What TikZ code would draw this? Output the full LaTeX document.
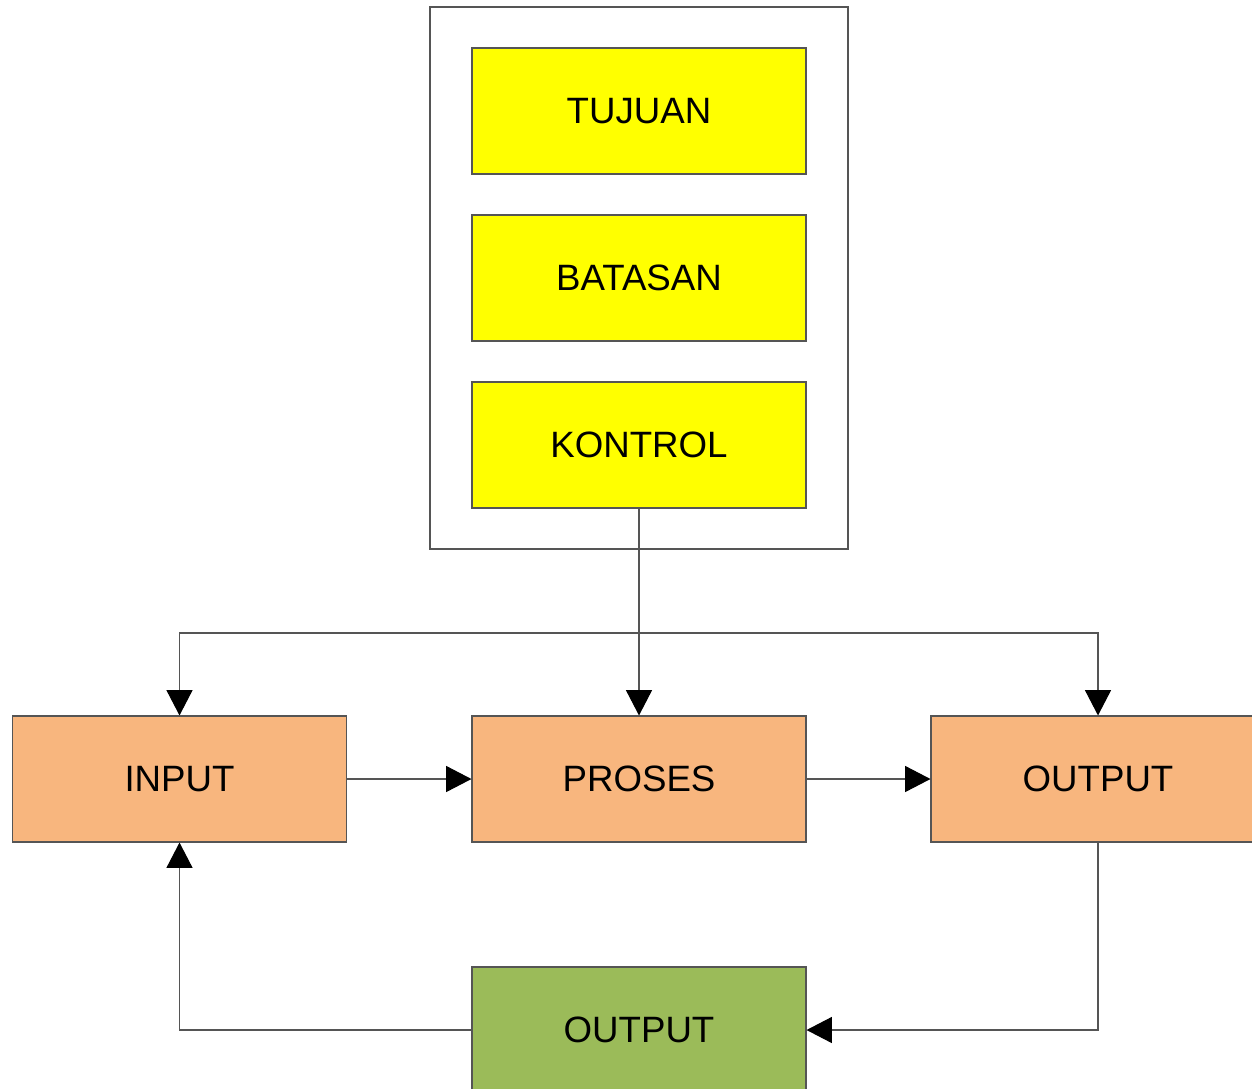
\documentclass[tikz,border=0pt]{standalone}
\usepackage{fontspec}
\setmainfont{Liberation Sans}
\usetikzlibrary{arrows.meta}

\definecolor{kuning}{RGB}{255,255,0}
\definecolor{jingga}{RGB}{248,182,126}
\definecolor{hijau}{RGB}{155,187,89}
\definecolor{garis}{RGB}{85,85,85}

\begin{document}
\begin{tikzpicture}[x=0.75pt,y=0.75pt,yscale=-1,xscale=1,
  kotak/.style={draw=garis,line width=0.8pt,minimum width=250.5pt,minimum height=94.5pt,inner sep=0pt,font=\fontsize{27.5}{33}\selectfont},
  panah/.style={draw=garis,line width=0.8pt,-{Triangle[width=19.5pt,length=19pt,fill=black,color=black]}}]
\clip (0,0) rectangle (1252,1088);

%Frame
\draw [garis,line width=0.8pt] (430,7) rectangle (848,549);

% Yellow boxes
\node (tujuan) [kotak,fill=kuning] at (639,111) {TUJUAN};
\node (batasan) [kotak,fill=kuning] at (639,278) {BATASAN};
\node (kontrol) [kotak,fill=kuning] at (639,445) {KONTROL};

% Orange boxes
\node (input) [kotak,fill=jingga] at (179.5,779) {INPUT};
\node (proses) [kotak,fill=jingga] at (639,779) {PROSES};
\node (output) [kotak,fill=jingga] at (1098,779) {OUTPUT};

% Green box
\node (balik) [kotak,fill=hijau] at (639,1030) {OUTPUT};

\coordinate (cabang) at (639,633);

% Connectors
\draw [panah] (kontrol.south) -- (proses.north);
\draw [panah] (cabang) -| (input.north);
\draw [panah] (cabang) -| (output.north);
\draw [panah] (input.east) -- (proses.west);
\draw [panah] (proses.east) -- (output.west);
\draw [panah] (output.south) |- (balik.east);
\draw [panah] (balik.west) -| (input.south);

\end{tikzpicture}
\end{document}
